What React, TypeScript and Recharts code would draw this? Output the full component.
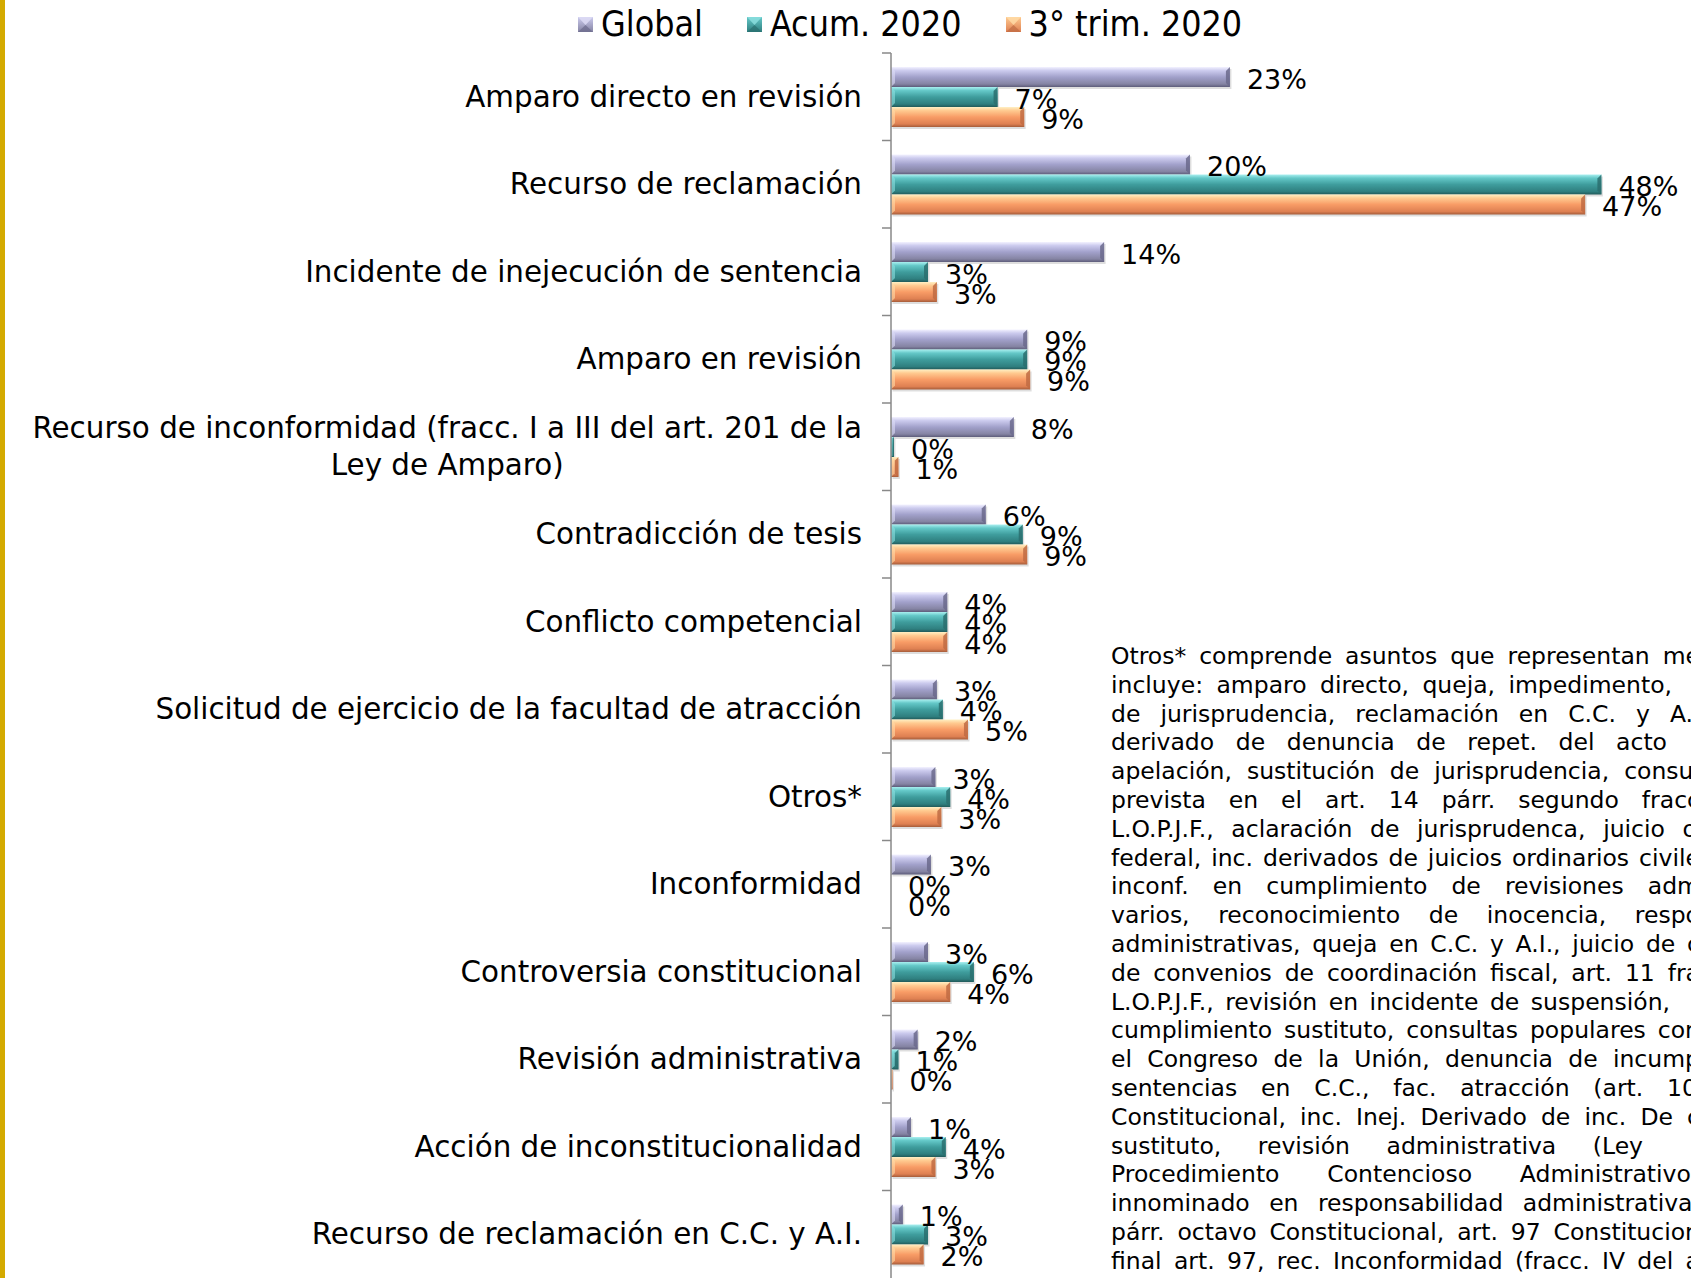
import { BarChart, Bar, XAxis, YAxis, LabelList } from 'recharts';

// Asuntos resueltos por tipo: porcentaje global, acumulado 2020 y 3er trimestre 2020.

const categories = [
  'Amparo directo en revisión',
  'Recurso de reclamación',
  'Incidente de inejecución de sentencia',
  'Amparo en revisión',
  'Recurso de inconformidad (fracc. I a III del art. 201 de la\nLey de Amparo)',
  'Contradicción de tesis',
  'Conflicto competencial',
  'Solicitud de ejercicio de la facultad de atracción',
  'Otros*',
  'Inconformidad',
  'Controversia constitucional',
  'Revisión administrativa',
  'Acción de inconstitucionalidad',
  'Recurso de reclamación en C.C. y A.I.',
];

const globalValues = [22.9, 20.2, 14.4, 9.2, 8.3, 6.4, 3.8, 3.1, 3.0, 2.7, 2.5, 1.8, 1.35, 0.8];
const acumValues = [7.2, 48.0, 2.5, 9.2, 0.2, 8.9, 3.8, 3.5, 4.0, 0, 5.6, 0.5, 3.7, 2.5];
const trimValues = [9.0, 46.9, 3.1, 9.4, 0.5, 9.2, 3.8, 5.2, 3.4, 0, 4.0, 0.1, 3.0, 2.2];

const seriesNames = ['Global', 'Acum. 2020', '3° trim. 2020'];

const noteLines = [
  'Otros* comprende asuntos que representan me',
  'incluye: amparo directo, queja, impedimento,',
  'de jurisprudencia, reclamación en C.C. y A.I',
  'derivado de denuncia de repet. del acto',
  'apelación, sustitución de jurisprudencia, consul',
  'prevista en el art. 14 párr. segundo fracc',
  'L.O.P.J.F., aclaración de jurisprudenca, juicio o',
  'federal, inc. derivados de juicios ordinarios civile',
  'inconf. en cumplimiento de revisiones adm',
  'varios, reconocimiento de inocencia, respo',
  'administrativas, queja en C.C. y A.I., juicio de c',
  'de convenios de coordinación fiscal, art. 11 fra',
  'L.O.P.J.F., revisión en incidente de suspensión,',
  'cumplimiento sustituto, consultas populares con',
  'el Congreso de la Unión, denuncia de incump',
  'sentencias en C.C., fac. atracción (art. 10',
  'Constitucional, inc. Inej. Derivado de inc. De c',
  'sustituto, revisión administrativa (Ley',
  'Procedimiento Contencioso Administrativo)',
  'innominado en responsabilidad administrativa,',
  'párr. octavo Constitucional, art. 97 Constitucion',
  'final art. 97, rec. Inconformidad (fracc. IV del a',
];
// right end of each justified line (the text box is cut by the picture edge)
const noteEnds = [1700, 1672, 1700, 1667, 1700, 1700, 1697, 1700, 1700, 1700, 1700, 1700, 1670, 1700,
  1700, 1697, 1700, 1643, 1700, 1700, 1700, 1700];

const FONT = "'DejaVu Sans', Verdana, sans-serif";
const NARROW = "'DejaVu Sans Condensed', 'DejaVu Sans', sans-serif";

const data = categories.map((name, i) => ({
  name,
  global: globalValues[i],
  acum: acumValues[i],
  trim: trimValues[i],
}));

const palette = [
  { id: 'gGlobal', stops: ['#f3f2ff', '#cccbee', '#a2a1cb', '#8584a3', '#5d5c7a'], edge: '#6b6a8c', light: '#deddf6' },
  { id: 'gAcum', stops: ['#aaf0f0', '#64c8c8', '#3f9d9d', '#2f7f7f', '#215a5a'], edge: '#2a6f6f', light: '#8de0e0' },
  { id: 'gTrim', stops: ['#fff0c4', '#ffca90', '#f89c66', '#de8052', '#a55c3a'], edge: '#bf6b43', light: '#ffdca8' },
];

const canvasCtx = typeof document !== 'undefined' ? document.createElement('canvas').getContext('2d') : null;
const textWidth = (s: string, font: string) => {
  if (!canvasCtx) return s.length * 16;
  canvasCtx.font = font;
  return canvasCtx.measureText(s).width;
};

const makeBar = (p: typeof palette[number]) => (props: any) => {
  const { x, y, width, height } = props;
  if (!width || width <= 0) return <g />;
  const b = Math.min(4, width / 2);
  return (
    <g>
      <rect x={x + 1.5} y={y + 2} width={width} height={height} fill="#000" opacity={0.13} />
      <rect x={x} y={y} width={width} height={height} fill={`url(#${p.id})`} />
      <polygon
        points={`${x + width - b},${y + b} ${x + width},${y} ${x + width},${y + height} ${x + width - b},${y + height - b}`}
        fill={p.edge}
        opacity={0.85}
      />
      <polygon
        points={`${x},${y} ${x + b},${y + b} ${x + b},${y + height - b} ${x},${y + height}`}
        fill={p.light}
        opacity={0.6}
      />
    </g>
  );
};

const renderLabel = (props: any) => {
  const { x, y, width, height, value } = props;
  return (
    <text
      x={x + width + 17}
      y={y + height / 2 + 2}
      dominantBaseline="central"
      fontSize={27}
      fontFamily={FONT}
      fill="#000"
    >
      {`${Math.round(value)}%`}
    </text>
  );
};

const CategoryTick = (props: any) => {
  const { x, y, payload } = props;
  const half = payload && payload.offset ? payload.offset : 43.75;
  const lines = String(payload.value).split('\n');
  const right = x - 29;
  const lineH = 36.7;
  const top = y - ((lines.length - 1) * lineH) / 2;
  const w0 = textWidth(lines[0], `29.4px ${FONT}`);
  return (
    <g>
      <line x1={x - 9} x2={x} y1={y - half} y2={y - half} stroke="#898989" strokeWidth={1.5} />
      {lines.map((ln, i) => (
        <text
          key={i}
          x={i === 0 ? right : right - w0 / 2}
          y={top + i * lineH}
          textAnchor={i === 0 ? 'end' : 'middle'}
          dominantBaseline="central"
          fontSize={29.4}
          fontFamily={FONT}
          fill="#000"
        >
          {ln}
        </text>
      ))}
    </g>
  );
};

const LegendIcon = ({ p }: { p: typeof palette[number] }) => (
  <svg width={15} height={15} style={{ display: 'block' }}>
    <defs>
      <linearGradient id={`leg-${p.id}`} x1="0" y1="0" x2="0" y2="1">
        <stop offset="0%" stopColor={p.stops[1]} />
        <stop offset="100%" stopColor={p.stops[3]} />
      </linearGradient>
    </defs>
    <rect x={0} y={0} width={15} height={15} fill={`url(#leg-${p.id})`} />
    <polygon points="0,0 15,0 7.5,8" fill={p.light} opacity={0.8} />
    <polygon points="0,15 15,15 7.5,8" fill={p.edge} opacity={0.7} />
  </svg>
);

const App = () => {
  const keys = ['global', 'acum', 'trim'];
  return (
    <div
      style={{
        position: 'absolute',
        left: 0,
        top: 0,
        width: 1691,
        height: 1278,
        overflow: 'hidden',
        background: '#fff',
      }}
    >
      <div style={{ position: 'absolute', left: 0, top: 0, width: 5, height: 1278, background: '#d4aa00' }} />

      <div
        style={{
          position: 'absolute',
          left: 578,
          top: 2,
          display: 'flex',
          alignItems: 'center',
          fontFamily: NARROW,
          fontStretch: 'condensed',
          fontSize: 35.5,
          lineHeight: '44px',
          color: '#000',
          whiteSpace: 'nowrap',
        }}
      >
        {seriesNames.map((n, i) => (
          <div key={n} style={{ display: 'flex', alignItems: 'center', marginRight: 44 }}>
            <LegendIcon p={palette[i]} />
            <span style={{ marginLeft: 8 }}>{n}</span>
          </div>
        ))}
      </div>

      <div style={{ position: 'absolute', left: 0, top: 0 }}>
        <BarChart
          layout="vertical"
          width={1691}
          height={1278}
          data={data}
          margin={{ top: 53, right: 60, bottom: 0, left: 5 }}
          barCategoryGap={14}
          barGap={0}
        >
          <defs>
            {palette.map((p) => (
              <linearGradient key={p.id} id={p.id} x1="0" y1="0" x2="0" y2="1">
                <stop offset="0%" stopColor={p.stops[0]} />
                <stop offset="18%" stopColor={p.stops[1]} />
                <stop offset="50%" stopColor={p.stops[2]} />
                <stop offset="85%" stopColor={p.stops[3]} />
                <stop offset="100%" stopColor={p.stops[4]} />
              </linearGradient>
            ))}
          </defs>
          <XAxis type="number" domain={[0, 50]} hide />
          <YAxis
            type="category"
            dataKey="name"
            width={886}
            interval={0}
            tickSize={0}
            tickMargin={0}
            tickLine={false}
            axisLine={{ stroke: '#898989', strokeWidth: 1.5 }}
            tick={<CategoryTick />}
          />
          {keys.map((k, i) => (
            <Bar key={k} dataKey={k} name={seriesNames[i]} shape={makeBar(palette[i])} isAnimationActive={false}>
              <LabelList dataKey={k} content={renderLabel} />
            </Bar>
          ))}
        </BarChart>
      </div>

      {noteLines.map((ln, i) => (
        <div
          key={i}
          style={{
            position: 'absolute',
            left: 1111,
            top: 642 + i * 28.8,
            width: noteEnds[i] - 1111,
            height: 28.8,
            overflow: 'hidden',
            fontFamily: FONT,
            fontSize: 23.5,
            lineHeight: '28.8px',
            textAlign: 'justify',
            textAlignLast: 'justify',
            color: '#000',
          }}
        >
          {ln}
        </div>
      ))}
    </div>
  );
};

export default App;
